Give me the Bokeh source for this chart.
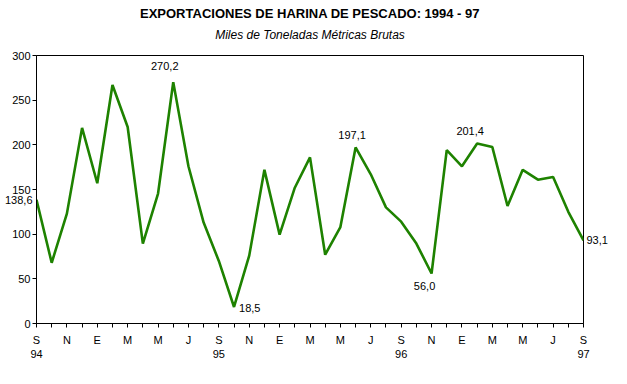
from bokeh.plotting import figure
from bokeh.models import (Range1d, FixedTicker, LinearAxis, ColumnDataSource,
                          LabelSet, Title)
from bokeh.core.properties import value
from bokeh.embed import file_html
from bokeh.resources import INLINE

# ---- data ----
values = [138.6, 68, 123, 219, 157, 267, 220, 89.5, 145.5, 270.2, 176, 113,
          70, 18.5, 76, 172, 99.5, 152, 186, 77, 108, 197.1, 167, 130,
          114, 89.5, 56.0, 194, 176, 201.4, 197.5, 131.5, 172, 161, 164, 125,
          93.1]
months = ["S", "O", "N", "D", "E", "F", "M", "A", "M", "J", "J", "A"]
year_positions = [0, 12, 24, 36]
year_labels = ["94", "95", "96", "97"]
y_ticks = [0, 50, 100, 150, 200, 250, 300]
label_above = [9, 21, 29]
label_below = [26]
label_right = [13]
first_idx = 0
last_idx = len(values) - 1

FONT = "Liberation Sans"
GREEN = "#1e8200"

x = list(range(len(values)))
month_labels = {i: (months[i % 12] if i % 2 == 0 else "") for i in x}


def fmt(v):
    return f"{v:.1f}".replace(".", ",")


p = figure(width=627, height=380, output_backend="svg", toolbar_location=None,
           x_range=Range1d(0, len(values) - 1), y_range=Range1d(0, 300),
           min_border_left=36, min_border_right=44, min_border_top=55,
           min_border_bottom=57)
p.background_fill_color = "white"
p.border_fill_color = "white"
p.outline_line_color = "black"
p.outline_line_width = 1
p.outline_line_alpha = 1
p.xgrid.grid_line_color = None
p.ygrid.grid_line_color = None

p.add_layout(Title(text="Miles de Toneladas Métricas Brutas", align="center",
                   text_font=FONT, text_font_size="12px",
                   text_font_style="italic", text_color="black", standoff=28,
                   offset=3), "above")
p.add_layout(Title(text="EXPORTACIONES DE HARINA DE PESCADO: 1994 - 97",
                   align="center", text_font=FONT, text_font_size="13px",
                   text_font_style="bold", text_color="black", standoff=-18,
                   offset=-3), "above")

p.line(x, values, line_color=GREEN, line_width=2.6)

# axes
for ax in (p.xaxis[0], p.yaxis[0]):
    ax.axis_line_color = "black"
    ax.major_tick_line_color = "black"
    ax.major_tick_out = 4
    ax.major_tick_in = 0
    ax.minor_tick_line_color = None
    ax.major_label_text_font = FONT
    ax.major_label_text_font_size = "11px"
    ax.major_label_text_color = "black"

p.xaxis[0].ticker = FixedTicker(ticks=x)
p.xaxis[0].major_label_overrides = month_labels
p.xaxis[0].major_label_standoff = 6
p.yaxis[0].ticker = FixedTicker(ticks=y_ticks)
p.yaxis[0].major_label_standoff = 2


def text_axis(ticks, labels, standoff):
    return LinearAxis(ticker=FixedTicker(ticks=ticks),
                      major_label_overrides=dict(zip(ticks, labels)),
                      axis_line_color=None, major_tick_line_color=None,
                      major_tick_out=0, major_tick_in=0,
                      minor_tick_line_color=None, minor_tick_out=0,
                      major_label_standoff=standoff,
                      major_label_text_font=FONT,
                      major_label_text_font_size="11px",
                      major_label_text_color="black")


# year row under the month letters
p.add_layout(text_axis(year_positions, year_labels, 1), "below")
# value label of the last point (outside the frame, right side)
p.add_layout(text_axis([values[last_idx]], [fmt(values[last_idx])], 3),
             "right")
# value label of the first point (outside the frame, left side)
p.add_layout(text_axis([values[first_idx]], [fmt(values[first_idx])], -23),
             "left")


def label_group(idx, xo, yo, align, baseline):
    src = ColumnDataSource(dict(x=idx, y=[values[i] for i in idx],
                                t=[fmt(values[i]) for i in idx],
                                xo=xo, yo=yo))
    ls = LabelSet(x="x", y="y", text="t", source=src, x_offset="xo",
                  y_offset="yo", text_align=value(align),
                  text_baseline=value(baseline),
                  text_font=value(FONT), text_font_size=value("11px"),
                  text_color=value("black"))
    p.add_layout(ls)


label_group(label_above, [-8.5, -3.5, -7], [12, 8, 8.3], "center", "alphabetic")
label_group(label_below, [-7], [-8.5], "center", "top")
label_group(label_right, [5], [-1.5], "left", "middle")

open("out.html", "w").write(file_html(p, INLINE))
